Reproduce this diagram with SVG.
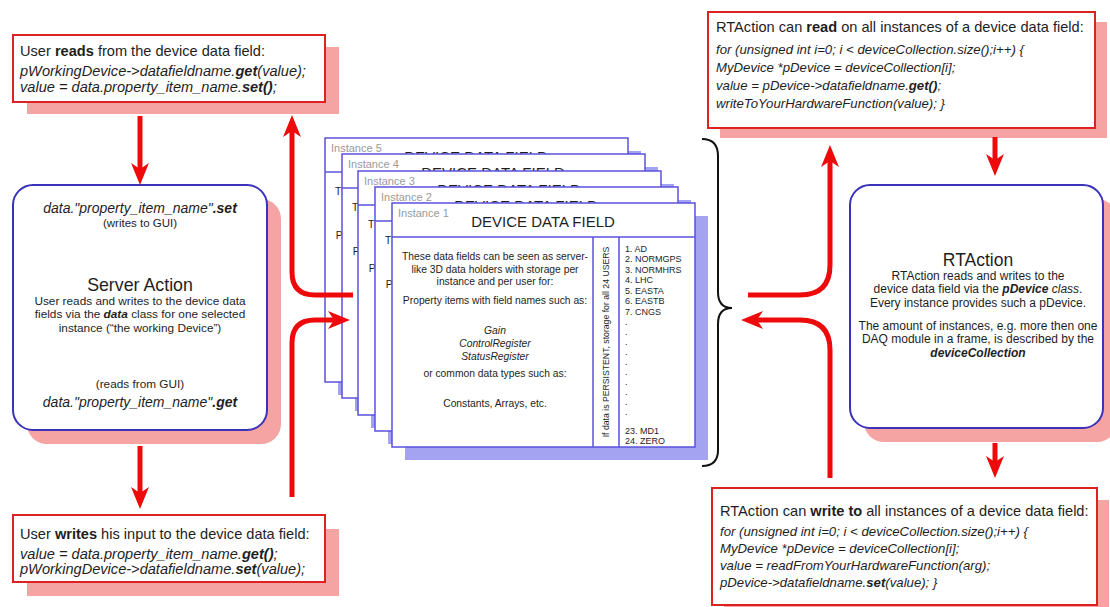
<svg xmlns="http://www.w3.org/2000/svg" width="1110" height="607" viewBox="0 0 1110 607">
<defs>
<style>
  text { font-family: "Liberation Sans", Arial, sans-serif; fill: #1e1e1e; }
  .box { fill: #ffffff; stroke: #dd2222; stroke-width: 2; }
  .shadow { fill: #f6a3a3; }
  .rbox { fill: #ffffff; stroke: #3a32b8; stroke-width: 2; }
  .card { fill: #ffffff; stroke: #5a52dc; stroke-width: 1.5; }
  .cline { stroke: #5a52dc; stroke-width: 1.5; }
  .cshadow { fill: #a3a3f2; }
  .head { font-size: 14.6px; }
  .code { font-size: 14.6px; font-style: italic; }
  .rcode { font-size: 13.2px; font-style: italic; }
  .b { font-weight: bold; }
  .arrow { fill: none; stroke: #ee0a0a; stroke-width: 5; marker-end: url(#head); }
  .brace { fill: none; stroke: #111111; stroke-width: 2; }
  .inst { font-size: 11px; fill: #9a9a9a; }
  .ctitle { font-size: 15px; text-anchor: middle; }
  .cbody { font-size: 10.3px; text-anchor: middle; }
  .clist { font-size: 9px; }
  .small { font-size: 11.8px; text-anchor: middle; }
  .rt { font-size: 12px; text-anchor: middle; }
  .mid { text-anchor: middle; }
</style>
<marker id="head" viewBox="0 0 22 18" refX="6" refY="9" markerWidth="22" markerHeight="18" markerUnits="userSpaceOnUse" orient="auto">
  <path d="M0,0 L22,9 L0,18 L6,9 z" fill="#ee0a0a"/>
</marker>
<!-- one data field card, drawn at its own origin -->
<g id="card-face">
  <rect class="card" x="0" y="0" width="303" height="244"/>
  <line class="cline" x1="0" y1="34" x2="303" y2="34"/>
  <line class="cline" x1="201" y1="34" x2="201" y2="244"/>
  <line class="cline" x1="227" y1="34" x2="227" y2="244"/>
  <text class="ctitle" x="151" y="24">DEVICE DATA FIELD</text>
  <text class="cbody" x="103" y="57">These data fields can be seen as server-</text>
  <text class="cbody" x="103" y="69.5">like 3D data holders with storage per</text>
  <text class="cbody" x="103" y="82">instance and per user for:</text>
  <text class="cbody" x="103" y="100.5">Property items with field names such as:</text>
  <text class="cbody" x="103" y="131" font-style="italic">Gain</text>
  <text class="cbody" x="103" y="144" font-style="italic">ControlRegister</text>
  <text class="cbody" x="103" y="157" font-style="italic">StatusRegister</text>
  <text class="cbody" x="103" y="174">or common data types such as:</text>
  <text class="cbody" x="103" y="204">Constants, Arrays, etc.</text>
  <text transform="translate(217,139) rotate(-90)" text-anchor="middle" font-size="8.7">If data is PERSISTENT, storage for all 24 USERS</text>
  <text class="clist" x="233" y="48.5">1. AD</text>
  <text class="clist" x="233" y="59">2. NORMGPS</text>
  <text class="clist" x="233" y="69.5">3. NORMHRS</text>
  <text class="clist" x="233" y="80">4. LHC</text>
  <text class="clist" x="233" y="90.5">5. EASTA</text>
  <text class="clist" x="233" y="101">6. EASTB</text>
  <text class="clist" x="233" y="111.5">7. CNGS</text>
  <text class="clist" x="233" y="122">.</text>
  <text class="clist" x="233" y="132">.</text>
  <text class="clist" x="233" y="142">.</text>
  <text class="clist" x="233" y="152">.</text>
  <text class="clist" x="233" y="162">.</text>
  <text class="clist" x="233" y="172">.</text>
  <text class="clist" x="233" y="182">.</text>
  <text class="clist" x="233" y="192">.</text>
  <text class="clist" x="233" y="202">.</text>
  <text class="clist" x="233" y="212">.</text>
  <text class="clist" x="233" y="230.5">23. MD1</text>
  <text class="clist" x="233" y="241">24. ZERO</text>
</g>
</defs>

<rect width="1110" height="607" fill="#ffffff"/>

<!-- user read box -->
<g id="user-reads">
  <rect class="shadow" x="27" y="47" width="312" height="67"/>
  <rect class="box" x="13" y="35" width="312" height="67"/>
  <text class="head" x="20" y="56">User <tspan class="b">reads</tspan> from the device data field:</text>
  <text class="code" x="20" y="76">pWorkingDevice-&gt;datafieldname.<tspan class="b">get</tspan>(value);</text>
  <text class="code" x="20" y="91.5">value = data.property_item_name.<tspan class="b">set()</tspan>;</text>
</g>

<!-- server action -->
<g id="server-action">
  <rect class="shadow" x="27" y="199" width="254" height="245" rx="20"/>
  <rect class="rbox" x="13" y="185" width="254" height="245" rx="20"/>
  <text class="mid" x="140" y="213" font-size="14" font-style="italic">data."property_item_name"<tspan class="b">.set</tspan></text>
  <text class="mid" x="140" y="227" font-size="11.5">(writes to GUI)</text>
  <text class="mid" x="140" y="291" font-size="17.8">Server Action</text>
  <text class="small" x="140" y="305">User reads and writes to the device data</text>
  <text class="small" x="140" y="318">fields via the <tspan class="b" font-style="italic">data</tspan> class for one selected</text>
  <text class="small" x="140" y="331.5">instance (“the working Device”)</text>
  <text class="small" x="140" y="387.5">(reads from GUI)</text>
  <text class="mid" x="140" y="407" font-size="14" font-style="italic">data."property_item_name"<tspan class="b">.get</tspan></text>
</g>

<!-- user write box -->
<g id="user-writes">
  <rect class="shadow" x="27" y="529" width="312" height="67"/>
  <rect class="box" x="13" y="515" width="312" height="67"/>
  <text class="head" x="20" y="538.5">User <tspan class="b">writes</tspan> his input to the device data field:</text>
  <text class="code" x="20" y="558.5">value = data.property_item_name.<tspan class="b">get()</tspan>;</text>
  <text class="code" x="20" y="573.5">pWorkingDevice-&gt;datafieldname.<tspan class="b">set</tspan>(value);</text>
</g>

<!-- stacked instances of the device data field -->
<g id="instance-5" transform="translate(325,138)">
  <rect class="cshadow" x="13" y="13" width="303" height="244"/>
  <use href="#card-face"/>
  <text class="inst" x="6" y="14">Instance 5</text>
</g>
<g id="instance-4" transform="translate(342,154)">
  <rect class="cshadow" x="13" y="13" width="303" height="244"/>
  <use href="#card-face"/>
  <text class="inst" x="6" y="14">Instance 4</text>
</g>
<g id="instance-3" transform="translate(358,171)">
  <rect class="cshadow" x="13" y="13" width="303" height="244"/>
  <use href="#card-face"/>
  <text class="inst" x="6" y="14">Instance 3</text>
</g>
<g id="instance-2" transform="translate(375,187)">
  <rect class="cshadow" x="13" y="13" width="303" height="244"/>
  <use href="#card-face"/>
  <text class="inst" x="6" y="14">Instance 2</text>
</g>
<g id="instance-1" transform="translate(392,203)">
  <rect class="cshadow" x="13" y="13" width="303" height="244"/>
  <use href="#card-face"/>
  <text class="inst" x="6" y="14">Instance 1</text>
</g>

<!-- RTAction read box -->
<g id="rt-reads">
  <rect class="shadow" x="720" y="22" width="387" height="116"/>
  <rect class="box" x="708" y="12" width="387" height="116"/>
  <text class="head" x="716" y="31.5">RTAction can <tspan class="b">read</tspan> on all instances of a device data field:</text>
  <text class="rcode" x="716" y="54">for (unsigned int i=0; i &lt; deviceCollection.size();i++) {</text>
  <text class="rcode" x="716" y="72">MyDevice *pDevice = deviceCollection[i];</text>
  <text class="rcode" x="716" y="90">value = pDevice-&gt;datafieldname.<tspan class="b">get()</tspan>;</text>
  <text class="rcode" x="716" y="108">writeToYourHardwareFunction(value); }</text>
</g>

<!-- RTAction -->
<g id="rt-action">
  <rect class="shadow" x="864" y="199" width="253" height="243" rx="20"/>
  <rect class="rbox" x="850" y="185" width="253" height="243" rx="20"/>
  <text class="mid" x="978" y="266" font-size="17.5">RTAction</text>
  <text class="rt" x="978" y="279.5">RTAction reads and writes to the</text>
  <text class="rt" x="978" y="293">device data field via the <tspan class="b" font-style="italic">pDevice</tspan><tspan font-style="italic"> class</tspan>.</text>
  <text class="rt" x="978" y="306.5">Every instance provides such a pDevice.</text>
  <text class="rt" x="978" y="329.5">The amount of instances, e.g. more then one</text>
  <text class="rt" x="978" y="343">DAQ module in a frame, is described by the</text>
  <text class="rt b" x="978" y="356.5" font-style="italic">deviceCollection</text>
</g>

<!-- RTAction write box -->
<g id="rt-writes">
  <rect class="shadow" x="724" y="500" width="385" height="117"/>
  <rect class="box" x="712" y="488" width="385" height="117"/>
  <text class="head" x="720" y="515.5">RTAction can <tspan class="b">write to</tspan> all instances of a device data field:</text>
  <text class="rcode" x="720" y="536">for (unsigned int i=0; i &lt; deviceCollection.size();i++) {</text>
  <text class="rcode" x="720" y="553">MyDevice *pDevice = deviceCollection[i];</text>
  <text class="rcode" x="720" y="570">value = readFromYourHardwareFunction(arg);</text>
  <text class="rcode" x="720" y="587">pDevice-&gt;datafieldname.<tspan class="b">set</tspan>(value); }</text>
</g>

<!-- connectors -->
<g id="connectors">
  <path class="arrow" d="M140,116 L140,169"/>
  <path class="arrow" d="M140,446 L140,493"/>
  <path class="arrow" d="M353,295 L315,295 Q292,295 292,272 L292,131"/>
  <path class="arrow" d="M292,497 L292,343 Q292,320 315,320 L334,320"/>
  <path class="arrow" d="M995,137 L995,160"/>
  <path class="arrow" d="M995,443 L995,462"/>
  <path class="arrow" d="M748,295 L800,295 Q830,295 830,265 L830,161"/>
  <path class="arrow" d="M830,478 L830,350 Q830,320 800,320 L757,320"/>
  <path class="brace" d="M702,139 Q718,139 718,156 L718,292 Q718,308 732,308 Q718,308 718,324 L718,450 Q718,466 702,466"/>
</g>
</svg>
